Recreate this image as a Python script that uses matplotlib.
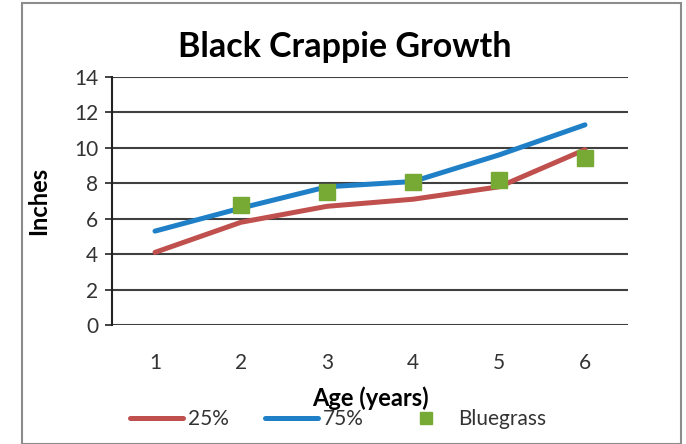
import matplotlib
matplotlib.use("Agg")
import matplotlib.pyplot as plt
from matplotlib.patches import Rectangle
from matplotlib.lines import Line2D

plt.rcParams['font.family'] = ['Lato', 'DejaVu Sans']

ages = [1, 2, 3, 4, 5, 6]
pct25 = [4.1, 5.8, 6.7, 7.1, 7.8, 9.9]
pct75 = [5.3, 6.6, 7.8, 8.1, 9.6, 11.3]
bg_ages = [2, 3, 4, 5, 6]
bluegrass = [6.8, 7.5, 8.1, 8.2, 9.4]
yticks = [0, 2, 4, 6, 8, 10, 12, 14]

red = '#C0504D'
blue = '#1F80C8'
green = '#77A935'

fig = plt.figure(figsize=(6.86, 4.44), dpi=100)
fig.patches.append(Rectangle((22 / 686, 0), 659 / 686, 441 / 444, transform=fig.transFigure,
                             fill=False, edgecolor='#8c8c8c', linewidth=1.5))

ax = fig.add_axes([112 / 686, 1 - 325 / 444, 516 / 686, 248 / 444])
ax.plot(ages, pct25, color=red, linewidth=3.6, solid_capstyle='round', zorder=3)
ax.plot(ages, pct75, color=blue, linewidth=3.6, solid_capstyle='round', zorder=3)
ax.plot(bg_ages, bluegrass, linestyle='none', marker='s', markersize=11,
        color=green, zorder=4)

ax.set_xlim(0.5, 6.5)
ax.set_ylim(0, 14)
ax.set_xticks(ages)
ax.set_yticks(yticks)
ax.grid(axis='y', color='#404040', linewidth=1.5)
ax.set_axisbelow(True)
for s in ['top', 'right', 'bottom']:
    ax.spines[s].set_visible(False)
ax.spines['left'].set_color('#222222')
ax.spines['left'].set_linewidth(1.5)
ax.tick_params(axis='y', length=5, width=1.2, labelsize=15, pad=5, color='#222222',
               labelcolor='#333333')
ax.tick_params(axis='x', length=0, labelsize=15, pad=20, labelcolor='#333333')

fig.text(345 / 686, 1 - 47 / 444, 'Black Crappie Growth', fontsize=24.5,
         fontweight='bold', ha='center', va='center')
ax.set_ylabel('Inches', fontsize=17, fontweight='bold', labelpad=17)
fig.text(370 / 686, 1 - 398 / 444, 'Age (years)', fontsize=17, fontweight='bold',
         ha='center', va='center')

handles = [Line2D([], [], color=red, linewidth=3.6, solid_capstyle='round'),
           Line2D([], [], color=blue, linewidth=3.6, solid_capstyle='round'),
           Line2D([], [], linestyle='none', marker='s', markersize=9, color=green)]
fig.legend(handles, ['25%', '75%', 'Bluegrass'], loc='center', ncol=3,
           bbox_to_anchor=(338 / 686, 1 - 419 / 444), frameon=False, fontsize=15,
           handlelength=2.55, columnspacing=1.7, handletextpad=0.25,
           labelcolor='#333333')

fig.savefig('out.png', dpi=100)
